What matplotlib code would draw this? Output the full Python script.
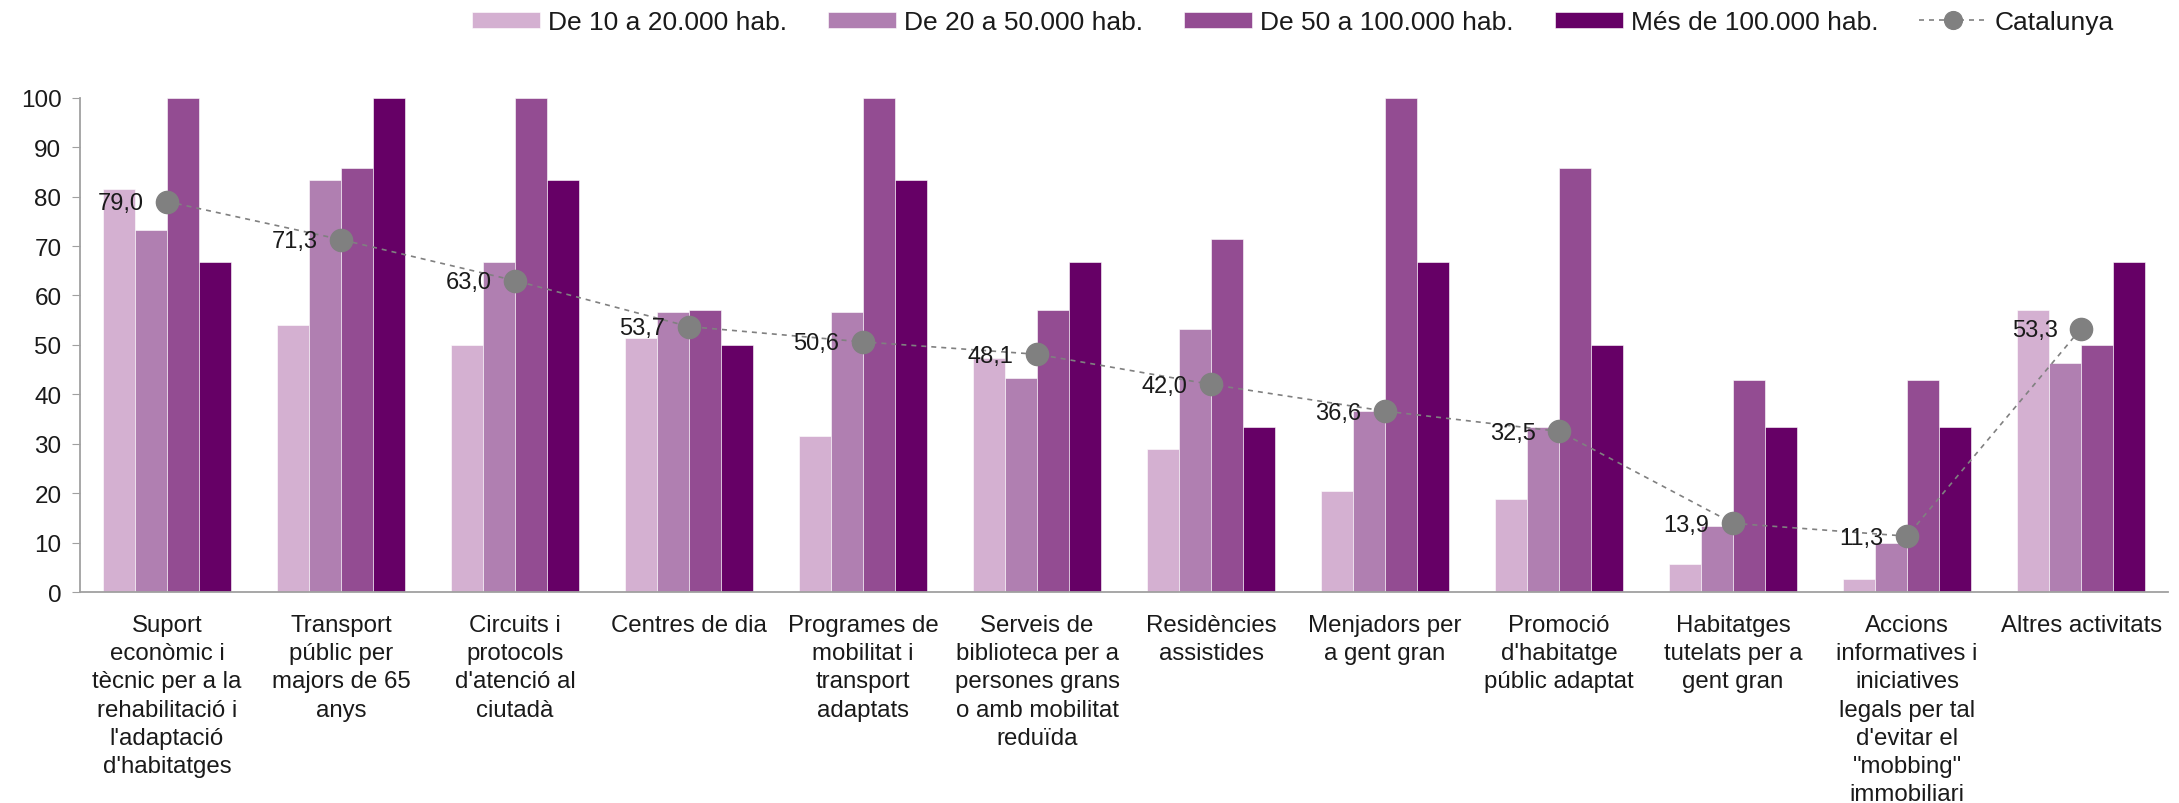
import matplotlib
matplotlib.use("Agg")
import matplotlib.pyplot as plt
import numpy as np

plt.rcParams['font.family'] = ['Liberation Sans', 'DejaVu Sans']

categories = [
    "Suport\neconòmic i\ntècnic per a la\nrehabilitació i\nl'adaptació\nd'habitatges",
    "Transport\npúblic per\nmajors de 65\nanys",
    "Circuits i\nprotocols\nd'atenció al\nciutadà",
    "Centres de dia",
    "Programes de\nmobilitat i\ntransport\nadaptats",
    "Serveis de\nbiblioteca per a\npersones grans\no amb mobilitat\nreduïda",
    "Residències\nassistides",
    "Menjadors per\na gent gran",
    "Promoció\nd'habitatge\npúblic adaptat",
    "Habitatges\ntutelats per a\ngent gran",
    "Accions\ninformatives i\niniciatives\nlegals per tal\nd'evitar el\n\"mobbing\"\nimmobiliari",
    "Altres activitats",
]

series_names = ["De 10 a 20.000 hab.", "De 20 a 50.000 hab.",
                "De 50 a 100.000 hab.", "Més de 100.000 hab."]
hab_10_20 = [81.6, 54.1, 50.0, 51.3, 31.6, 47.4, 28.9, 20.5, 18.9, 5.6, 2.6, 57.1]
hab_20_50 = [73.3, 83.3, 66.7, 56.7, 56.7, 43.3, 53.3, 36.7, 33.3, 13.3, 10.0, 46.4]
hab_50_100 = [100, 85.7, 100, 57.1, 100, 57.1, 71.4, 100, 85.7, 42.9, 42.9, 50.0]
hab_100_mes = [66.7, 100, 83.3, 50.0, 83.3, 66.7, 33.3, 66.7, 50.0, 33.3, 33.3, 66.7]
catalunya = [79.0, 71.3, 63.0, 53.7, 50.6, 48.1, 42.0, 36.6, 32.5, 13.9, 11.3, 53.3]

colors = ["#D4B0D1", "#B07FB1", "#934C92", "#660066"]
txt = "#1a1a1a"

fig = plt.figure(figsize=(21.79, 8.04), dpi=100)
ax = fig.add_axes([0.0367, 0.2624, 0.9583, 0.6148])

x = np.arange(len(categories))
w = 0.184
all_series = [hab_10_20, hab_20_50, hab_50_100, hab_100_mes]
handles = []
for i, vals in enumerate(all_series):
    b = ax.bar(x + (i - 1.5) * w, vals, width=w, color=colors[i],
               edgecolor="white", linewidth=0.4, label=series_names[i])
    handles.append(b)

line, = ax.plot(x, catalunya, linestyle=(0, (3, 3)), color="#808080", linewidth=1.2,
                marker="o", markersize=16, markerfacecolor="#808080",
                markeredgecolor="#808080", label="Catalunya", zorder=5)
handles.append(line)

for xi, v in zip(x, catalunya):
    ax.annotate(f"{v:.1f}".replace(".", ","), (xi, v), xytext=(-17, -1),
                textcoords="offset points", ha="right", va="center",
                fontsize=17, color=txt, zorder=6)

ax.set_xlim(-0.5, len(categories) - 0.5)
ax.set_ylim(0, 100)
ax.set_yticks(range(0, 101, 10))
ax.set_xticks(x)
ax.set_xticklabels(categories, fontsize=17.3, linespacing=1.36, color=txt)
ax.tick_params(axis="x", length=0, pad=16)
ax.tick_params(axis="y", labelsize=17.5, length=5.8, color="#A0A0A0",
               labelcolor=txt, pad=7.5)
for s in ["top", "right"]:
    ax.spines[s].set_visible(False)
for s in ["left", "bottom"]:
    ax.spines[s].set_color("#A0A0A0")
    ax.spines[s].set_linewidth(1.3)

fig.legend(handles, series_names + ["Catalunya"], loc="center",
           bbox_to_anchor=(0.5935, 0.971), ncol=5,
           frameon=False, fontsize=19, handlelength=2.58, handleheight=0.6,
           handletextpad=0.3, columnspacing=1.55, markerscale=0.8,
           labelcolor=txt)

fig.savefig("out.png", dpi=100)
